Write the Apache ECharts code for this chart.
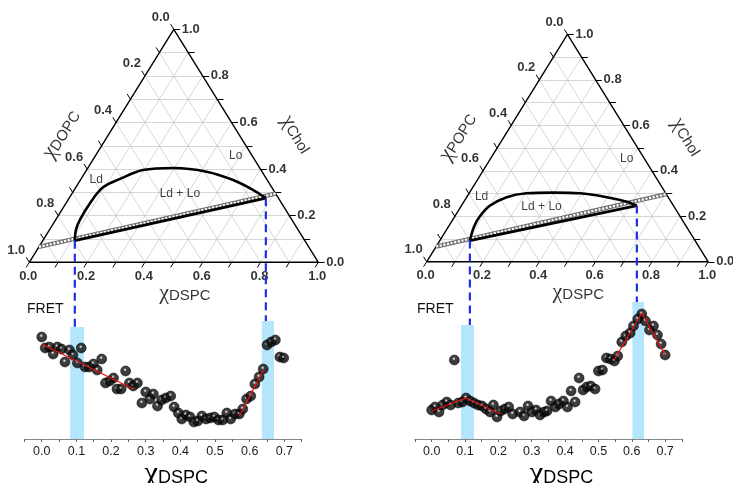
<!DOCTYPE html>
<html>
<head>
<meta charset="utf-8">
<script src="https://cdn.jsdelivr.net/npm/echarts@6/dist/echarts.min.js"></script>
<style>
  html, body { margin: 0; padding: 0; background: #fff; }
  #main { width: 733px; height: 483px; }
</style>
</head>
<body>
<div id="main"></div>
<script>
// ternary points are [xDSPC, xChol]; the third lipid fills the rest
const ternGridVals = [0.1, 0.2, 0.3, 0.4, 0.5, 0.6, 0.7, 0.8, 0.9]
const ternTickVals = [0, 0.1, 0.2, 0.3, 0.4, 0.5, 0.6, 0.7, 0.8, 0.9, 1]
const ternLabelVals = [0, 0.2, 0.4, 0.6, 0.8, 1]
const phaseNames = ['Ld', 'Ld + Lo', 'Lo']

// DSPC / DOPC / Chol
const leftCurve = [[0.111, 0.093], [0.092, 0.139], [0.084, 0.182], [0.083, 0.255], [0.094, 0.322],
  [0.135, 0.358], [0.195, 0.396], [0.298, 0.405], [0.419, 0.389], [0.529, 0.353], [0.620, 0.310], [0.681, 0.275]]
const leftTie = [[0.111, 0.093], [0.681, 0.275]]
const leftChain = [[0, 0.066], [0.705, 0.295]]
const leftPhasePos = [[0.055, 0.353], [0.373, 0.296], [0.486, 0.456]]

// DSPC / POPC / Chol
const rightCurve = [[0.107, 0.093], [0.091, 0.155], [0.089, 0.199], [0.101, 0.246], [0.142, 0.284],
  [0.204, 0.301], [0.297, 0.304], [0.394, 0.301], [0.498, 0.284], [0.579, 0.264], [0.623, 0.247]]
const rightTie = [[0.107, 0.093], [0.623, 0.247]]
const rightChain = [[0, 0.067], [0.703, 0.297]]
const rightPhasePos = [[0.052, 0.286], [0.287, 0.242], [0.483, 0.455]]

// FRET vs xDSPC (arbitrary units)
const leftFret = [
  [0.000, 1.02], [0.010, 0.91], [0.022, 0.92], [0.033, 0.85], [0.045, 0.92], [0.057, 0.90],
  [0.067, 0.77], [0.080, 0.89], [0.090, 0.84], [0.103, 0.76], [0.114, 0.91], [0.125, 0.72],
  [0.137, 0.72], [0.149, 0.75], [0.160, 0.69], [0.173, 0.80], [0.184, 0.56], [0.196, 0.58],
  [0.207, 0.61], [0.217, 0.50], [0.229, 0.50], [0.242, 0.68], [0.253, 0.56], [0.264, 0.53],
  [0.276, 0.56], [0.289, 0.36], [0.300, 0.47], [0.312, 0.40], [0.322, 0.45], [0.334, 0.33],
  [0.346, 0.39], [0.358, 0.41], [0.372, 0.43], [0.382, 0.32], [0.394, 0.26], [0.404, 0.20],
  [0.416, 0.24], [0.428, 0.22], [0.439, 0.17], [0.450, 0.18], [0.462, 0.23], [0.474, 0.20],
  [0.486, 0.21], [0.498, 0.22], [0.510, 0.19], [0.522, 0.19], [0.534, 0.26], [0.545, 0.20],
  [0.558, 0.25], [0.570, 0.25], [0.580, 0.30], [0.591, 0.40], [0.603, 0.43], [0.615, 0.55],
  [0.627, 0.62], [0.639, 0.70], [0.650, 0.94], [0.662, 0.97], [0.674, 0.99], [0.687, 0.82],
  [0.698, 0.81]
]
const leftFits = [
  [[0.000, 0.95], [0.264, 0.50]],
  [[0.570, 0.23], [0.641, 0.70]]
]
const leftBands = [[0.082, 0.122, 1.12], [0.635, 0.670, 1.18]]

const rightFret = [
  [0.000, 0.29], [0.010, 0.32], [0.022, 0.27], [0.033, 0.34], [0.045, 0.37], [0.057, 0.34],
  [0.068, 0.79], [0.080, 0.36], [0.092, 0.37], [0.103, 0.41], [0.115, 0.38], [0.127, 0.36],
  [0.139, 0.34], [0.151, 0.33], [0.163, 0.30], [0.175, 0.27], [0.185, 0.34], [0.196, 0.22],
  [0.207, 0.28], [0.219, 0.30], [0.231, 0.32], [0.243, 0.25], [0.265, 0.27], [0.277, 0.23],
  [0.289, 0.33], [0.301, 0.27], [0.313, 0.29], [0.325, 0.24], [0.337, 0.27], [0.346, 0.28],
  [0.358, 0.38], [0.371, 0.32], [0.382, 0.35], [0.395, 0.38], [0.407, 0.32], [0.418, 0.48],
  [0.430, 0.37], [0.442, 0.61], [0.454, 0.49], [0.465, 0.52], [0.477, 0.53], [0.490, 0.50],
  [0.500, 0.68], [0.512, 0.69], [0.524, 0.81], [0.536, 0.80], [0.548, 0.78], [0.558, 0.83],
  [0.570, 0.97], [0.582, 1.03], [0.595, 1.06], [0.605, 1.13], [0.618, 1.20], [0.630, 1.25],
  [0.641, 1.18], [0.653, 1.09], [0.665, 1.13], [0.677, 1.04], [0.688, 0.95], [0.700, 0.84]
]
const rightFits = [
  [[0.000, 0.28], [0.103, 0.41], [0.206, 0.25]],
  [[0.547, 0.79], [0.630, 1.26], [0.700, 0.84]]
]
const rightBands = [[0.088, 0.127, 1.14], [0.602, 0.637, 1.37]]

const FONT = 'Liberation Sans, Arial, sans-serif'
const CHI = 'Liberation Serif, serif'

// ternary [DSPC, Chol] -> plane coords
function tern (a, c) {
  return [a + c / 2, c]
}

function seg (p, q) {
  return { coords: [tern(p[0], p[1]), tern(q[0], q[1])] }
}

function ternarySeries (idx, curve, tie, chain, phasePos, lipid) {
  let gridLines = []
  ternGridVals.forEach(g => {
    gridLines.push(seg([0, g], [1 - g, g]))
    gridLines.push(seg([g, 0], [g, 1 - g]))
    gridLines.push(seg([1 - g, 0], [0, 1 - g]))
  })
  let L = 0.022
  let ticks = []
  ternTickVals.forEach(t => {
    ticks.push(seg([t, 0], [t, -L]))
    ticks.push(seg([0, t], [-L, t + L]))
    ticks.push(seg([1 - t, t], [1 - t + L, t]))
  })
  let lab = { show: true, position: 'inside', fontFamily: FONT, fontSize: 13, fontWeight: 'bold', color: '#000' }
  let texts = []
  ternLabelVals.forEach(v => {
    texts.push({ value: tern(v, 0), label: Object.assign({ formatter: v.toFixed(1), offset: [-1, 14] }, lab) })
    texts.push({ value: tern(0, 1 - v), label: Object.assign({ formatter: v.toFixed(1), offset: [-13, -12] }, lab) })
    texts.push({ value: tern(1 - v, v), label: Object.assign({ formatter: v.toFixed(1), offset: [17, 0] }, lab) })
  })
  phaseNames.forEach((n, i) => {
    texts.push({ value: tern(phasePos[i][0], phasePos[i][1]),
      label: { show: true, position: 'inside', formatter: n, fontSize: 12, fontFamily: FONT, color: '#111' } })
  })
  let rich = {
    c: { fontSize: 22, fontFamily: CHI, color: '#000' },
    s: { fontSize: 15, fontFamily: FONT, color: '#000', padding: [5, 0, 0, 0] }
  }
  let title = (f, rot) => ({ show: true, position: 'inside', formatter: f, rotate: rot, rich: rich })
  texts.push({ value: tern(-0.165, 0.55), label: title('{c|χ}{s|' + lipid + '}', 58) })
  texts.push({ value: tern(0.65, 0.55), label: title('{c|χ}{s|Chol}', -58) })
  texts.push({ value: tern(0.605, -0.133), label: title('{c|χ}{s|DSPC}', 0) })

  let ax = { xAxisIndex: idx, yAxisIndex: idx }
  return [
    Object.assign({ type: 'lines', coordinateSystem: 'cartesian2d', data: gridLines, silent: true, z: 1,
      lineStyle: { color: '#c4c4c4', width: 0.7, opacity: 1 } }, ax),
    Object.assign({ type: 'lines', coordinateSystem: 'cartesian2d', data: ticks, silent: true, z: 2,
      lineStyle: { color: '#000', width: 1, opacity: 1 } }, ax),
    Object.assign({ type: 'line', data: [tern(0, 0), tern(1, 0), tern(0, 1), tern(0, 0)], symbol: 'none', z: 2,
      lineStyle: { color: '#000', width: 1.4 } }, ax),
    Object.assign({ type: 'line', data: chain.map(p => tern(p[0], p[1])), symbol: 'none', z: 3,
      lineStyle: { color: '#6e6e6e', width: 4.4 } }, ax),
    Object.assign({ type: 'line', data: chain.map(p => tern(p[0], p[1])), symbol: 'none', z: 3,
      lineStyle: { color: '#fff', width: 2.2, type: [2.2, 1.5] } }, ax),
    Object.assign({ type: 'line', data: tie.map(p => tern(p[0], p[1])), symbol: 'none', z: 4,
      lineStyle: { color: '#000', width: 2.8 } }, ax),
    Object.assign({ type: 'line', data: curve.map(p => tern(p[0], p[1])), symbol: 'none', smooth: 0.35, z: 4,
      lineStyle: { color: '#000', width: 2.6 } }, ax),
    Object.assign({ type: 'scatter', data: texts, symbolSize: 1, silent: true, z: 5, clip: false,
      itemStyle: { color: 'rgba(0,0,0,0)' } }, ax)
  ]
}

const sphere = new echarts.graphic.RadialGradient(0.45, 0.38, 0.6, [
  { offset: 0, color: '#ffffff' },
  { offset: 0.1, color: '#b8b8b8' },
  { offset: 0.26, color: '#141414' },
  { offset: 1, color: '#000' }
])

function fretSeries (idx, pts, fits, bands) {
  let ax = { xAxisIndex: idx, yAxisIndex: idx }
  let out = [
    Object.assign({
      type: 'custom', data: bands, z: 1, silent: true,
      encode: { x: [0, 1], y: 2 },
      renderItem: function (params, api) {
        let p0 = api.coord([api.value(0), api.value(2)])
        let p1 = api.coord([api.value(1), 0])
        return { type: 'rect', shape: { x: p0[0], y: p0[1], width: p1[0] - p0[0], height: p1[1] - p0[1] },
          style: { fill: '#b3e5fc' } }
      }
    }, ax),
    Object.assign({ type: 'scatter', data: pts, symbolSize: 10, z: 3,
      itemStyle: { color: sphere, borderColor: '#000', borderWidth: 0.6 } }, ax)
  ]
  fits.forEach(f => {
    out.push(Object.assign({ type: 'line', data: f, symbol: 'none', z: 4,
      lineStyle: { color: '#ee1111', width: 1.3 } }, ax))
  })
  return out
}

function hiddenAxis (gi) {
  return { type: 'value', gridIndex: gi, min: -0.1, max: 1.1, show: false }
}

function fretX (gi) {
  return {
    type: 'value', gridIndex: gi, min: -0.05, max: 0.75, interval: 0.05,
    splitLine: { show: false },
    axisLine: { lineStyle: { color: '#888', width: 1 } },
    axisTick: { length: 3, lineStyle: { color: '#666' } },
    axisLabel: {
      margin: 6, fontSize: 12.5, fontFamily: FONT, color: '#1a1a1a',
      formatter: v => (Math.round(v * 20) % 2 === 0 && v > -0.01) ? v.toFixed(1) : ''
    },
    name: '{c|χ}{s|DSPC}',
    nameLocation: 'middle',
    nameGap: 7,
    nameTextStyle: {
      padding: [0, 0, 0, 26],
      rich: {
        c: { fontSize: 31, fontFamily: CHI, color: '#000' },
        s: { fontSize: 18, fontFamily: FONT, color: '#000', padding: [8, 0, 0, 0] }
      }
    }
  }
}

const chart = echarts.init(document.getElementById('main'))
chart.setOption({
  animation: false,
  backgroundColor: '#fff',
  title: [
    { text: 'FRET', left: 27, top: 302, padding: 0, textStyle: { fontSize: 14, fontWeight: 'normal', fontFamily: FONT, color: '#111' } },
    { text: 'FRET', left: 417, top: 302, padding: 0, textStyle: { fontSize: 14, fontWeight: 'normal', fontFamily: FONT, color: '#111' } }
  ],
  grid: [
    { left: 0.4, top: 6, width: 346.8, height: 279.6, outerBoundsMode: 'none' },
    { left: 398.5, top: 11.6, width: 337.9, height: 272.9, outerBoundsMode: 'none' },
    { left: 24.4, top: 299, width: 277.3, height: 140, outerBoundsMode: 'none' },
    { left: 415, top: 299, width: 266.8, height: 140, outerBoundsMode: 'none' }
  ],
  xAxis: [hiddenAxis(0), hiddenAxis(1), fretX(2), fretX(3)],
  yAxis: [hiddenAxis(0), hiddenAxis(1),
    { type: 'value', gridIndex: 2, min: 0, max: 1.4, show: false },
    { type: 'value', gridIndex: 3, min: 0, max: 1.4, show: false }],
  series: [].concat(
    ternarySeries(0, leftCurve, leftTie, leftChain, leftPhasePos, 'DOPC'),
    ternarySeries(1, rightCurve, rightTie, rightChain, rightPhasePos, 'POPC'),
    fretSeries(2, leftFret, leftFits, leftBands),
    fretSeries(3, rightFret, rightFits, rightBands)
  )
})

// blue dashed drops: from each tie-line end down to the top of its FRET band
const drops = [
  { tern: 0, fret: 2, end: leftTie[0], top: leftBands[0][2] },
  { tern: 0, fret: 2, end: leftTie[1], top: leftBands[1][2] },
  { tern: 1, fret: 3, end: rightTie[0], top: rightBands[0][2] },
  { tern: 1, fret: 3, end: rightTie[1], top: rightBands[1][2] }
]
let dashes = drops.map(d => {
  let p1 = chart.convertToPixel({ gridIndex: d.tern }, tern(d.end[0], d.end[1]))
  let p2 = chart.convertToPixel({ gridIndex: d.fret }, [0, d.top])
  return {
    type: 'line', z: 10, silent: true,
    shape: { x1: p1[0], y1: p1[1], x2: p1[0], y2: p2[1] },
    style: { stroke: '#1f2fe8', lineWidth: 2.2, lineDash: [8, 5] }
  }
})
chart.setOption({ graphic: dashes })
</script>
</body>
</html>
